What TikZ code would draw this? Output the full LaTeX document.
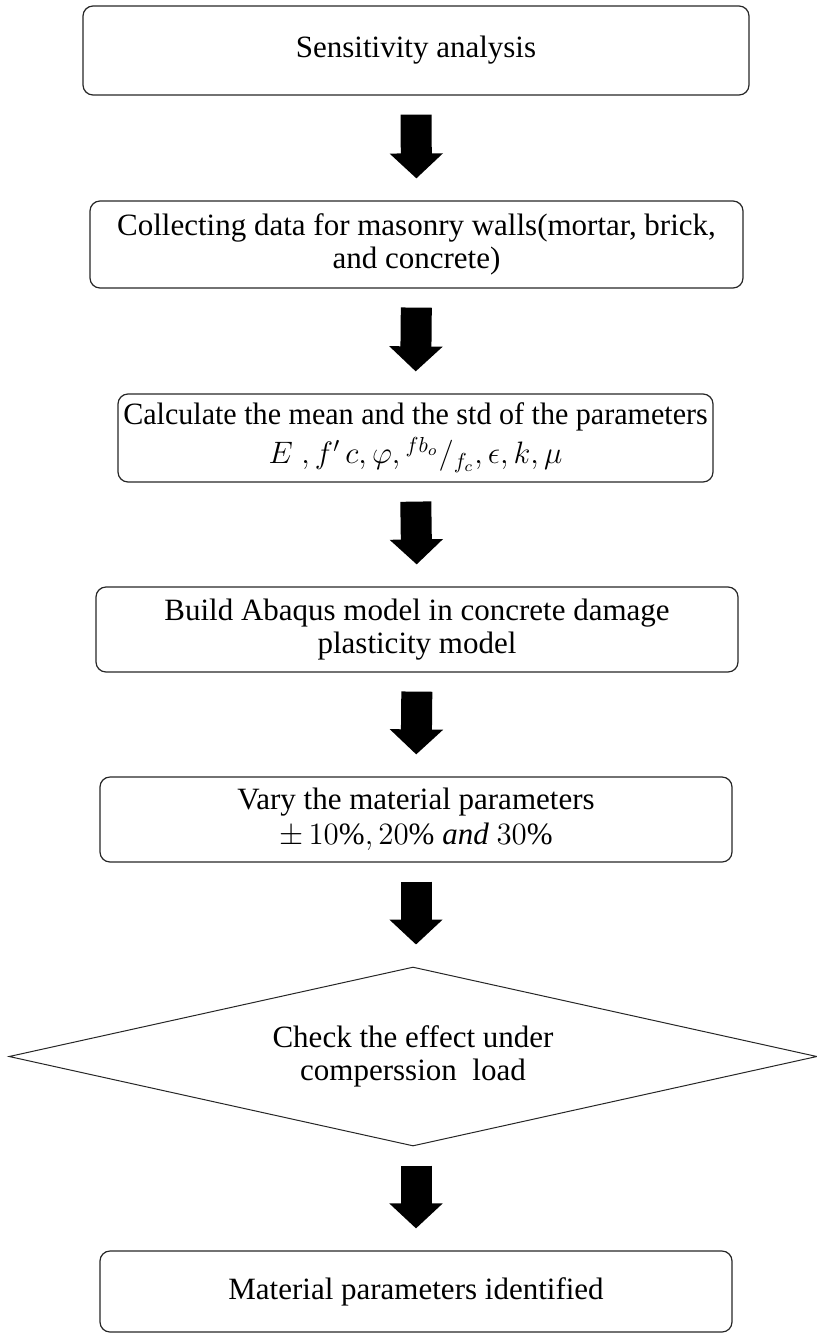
\RequirePackage{fix-cm}
\documentclass[tikz,border=0pt]{standalone}
\usepackage{fontspec}
\setmainfont{Liberation Serif}
\usetikzlibrary{shapes.geometric,arrows.meta}
\begin{document}
\begin{tikzpicture}[x=0.5pt,y=-0.5pt,
  txt/.style={font=\fontsize{15.5}{16.5}\selectfont, align=center, inner sep=0pt},
  box/.style={txt, draw=black!85, line width=0.6pt, rounded corners=5pt},
  dia/.style={txt, draw=black!85, line width=0.5pt, diamond, aspect=4.6},
  flow/.style={line width=15.5pt, -{Triangle[width=26pt,length=12.5pt]}, shorten <=9.5pt, shorten >=11pt}
]
\useasboundingbox (0,0) rectangle (817,1334);
\node[box, minimum width=333pt, minimum height=44.5pt] (b1) at (416,50.5) {Sensitivity analysis};
\node[box, minimum width=326.5pt, minimum height=43.5pt] (b2) at (416.5,244.5) {Collecting data for masonry walls(mortar, brick,\\ and concrete)};
\node[box, minimum width=297.5pt, minimum height=44pt] (b3) at (415.5,438) {\scalebox{0.97}[1]{Calculate the mean and the std of the parameters}\\[3pt] $E\;,f'\,c,\varphi,{}^{fb_o}/_{f_c},\epsilon,k,\mu$};
\node[box, minimum width=321pt, minimum height=42.5pt] (b4) at (417,629.5) {Build Abaqus model in concrete damage\\ plasticity model};
\node[box, minimum width=316pt, minimum height=42.5pt] (b5) at (416,819.5) {Vary the material parameters\\[1pt] $\pm\,10\%,20\%\ \mathit{and}\ 30\%$};
\node[dia, minimum width=404pt, minimum height=89.5pt] (d) at (413,1056.5) {Check the effect under\\ comperssion\ \ load};
\node[box, minimum width=316pt, minimum height=40.5pt] (b6) at (416,1291.5) {Material parameters identified};
\coordinate (dt) at (b5.south |- d.north);
\coordinate (db) at (b6.north |- d.south);
\draw[flow] (b1.south) -- (b2.north);
\draw[flow] (b2.south) -- (b3.north);
\draw[flow] (b3.south) -- (b4.north);
\draw[flow] (b4.south) -- (b5.north);
\draw[flow] (b5.south) -- (dt);
\draw[flow] (db) -- (b6.north);
\end{tikzpicture}
\end{document}
